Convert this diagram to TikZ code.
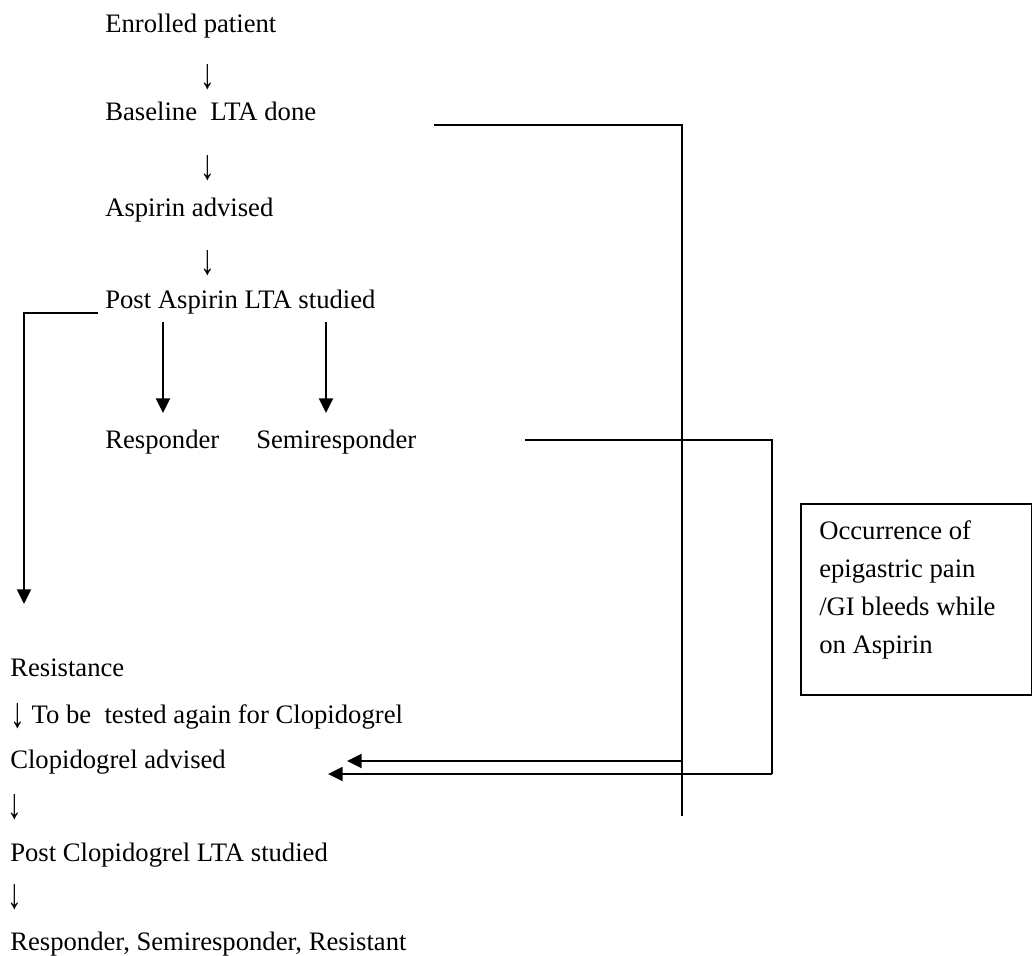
\documentclass[tikz,border=0pt]{standalone}
\usepackage{fontspec}
\usepackage{graphicx}
\setmainfont{Liberation Serif}
\usetikzlibrary{arrows.meta,calc}
\newcommand{\darr}{\raisebox{-0.15em}{\scalebox{1.1}[1.6]{↓}}}
\begin{document}
\begin{tikzpicture}[x=0.75pt,y=-0.75pt,
  txt/.style={anchor=base west,inner sep=0pt,font=\fontsize{20}{24}\selectfont},
  arr/.style={anchor=center,inner sep=0pt,font=\fontsize{20}{24}\selectfont},
  ln/.style={line width=1.4pt},
  tip/.style={ln,-{Triangle[length=11pt,width=10.5pt]}}]
\useasboundingbox (0,0) rectangle (1032,956);
% main column
\node[txt] (enr) at (105,33) {Enrolled patient};
\node[arr] (a1) at (208,77) {\darr};
\node[txt] (base) at (105,120) {Baseline\ \ LTA done};
\node[arr] (a2) at (208,168) {\darr};
\node[txt] (asp) at (105,216) {Aspirin advised};
\node[arr] (a3) at (208,263) {\darr};
\node[txt] (post) at (105,308) {Post Aspirin LTA studied};
\node[txt] (resp) at (105,448) {Responder};
\node[txt] (semi) at (256,448) {Semiresponder};
% lower column
\node[txt] (res) at (10,676) {Resistance};
\node[txt] (tbt) at (10,723) {\darr\ To be\ \ tested again for Clopidogrel};
\node[txt] (clop) at (10,768) {Clopidogrel advised};
\node[arr] (a4) at (15,807) {\darr};
\node[txt] (pclop) at (10,861) {Post Clopidogrel LTA studied};
\node[arr] (a5) at (15,897) {\darr};
\node[txt] (fin) at (10,950) {Responder, Semiresponder, Resistant};
% side box
\node[draw,ln,anchor=north west,inner sep=0pt,minimum width=173.5pt,minimum height=143pt] (box) at (800,503) {};
\node[anchor=north west,inner sep=0pt,align=left,font=\fontsize{20}{28.5}\selectfont] (boxtxt) at (819,520)
  {Occurrence of\\epigastric pain\\/GI bleeds while\\on Aspirin};
% connector coordinates
\coordinate (b1) at (434,125);
\coordinate (b2) at (682,125);
\coordinate (b3) at (682,816);
\coordinate (bj) at (682,761);
\coordinate (s1) at (525,440);
\coordinate (s2) at (772,440);
\coordinate (s3) at (772,774);
\coordinate (p1) at (98,313);
\coordinate (p2) at (24,313);
\coordinate (p3) at (24,604);
% connectors
\draw[ln] (b1) -- (b2) -- (b3);
\draw[tip] (bj) -- (347,761);
\draw[ln] (s1) -- (s2) -- (s3);
\draw[tip] (s3) -- (328,774);
\draw[tip] (p1) -- (p2) -- (p3);
\draw[tip] (163,322) -- (163,413);
\draw[tip] (326,322) -- (326,413);
\end{tikzpicture}
\end{document}
